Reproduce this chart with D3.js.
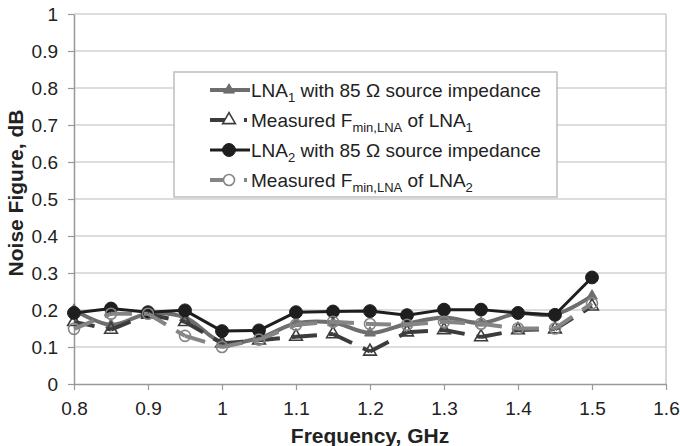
<!DOCTYPE html>
<html>
<head>
<meta charset="utf-8">
<script src="https://cdn.jsdelivr.net/npm/d3@7"></script>
<style>
  body { margin: 0; background: #fff; }
  text { font-family: "Liberation Sans", Arial, sans-serif; }
</style>
</head>
<body>
<div id="chart"></div>
<script>
// Noise figure vs frequency, two LNAs

const freqs = [0.8, 0.85, 0.9, 0.95, 1.0, 1.05, 1.1, 1.15, 1.2, 1.25, 1.3, 1.35, 1.4, 1.45, 1.5];

const lna1Sim  = [0.200, 0.160, 0.190, 0.180, 0.113, 0.124, 0.164, 0.166, 0.138, 0.163, 0.180, 0.165, 0.191, 0.188, 0.238];
const lna1Fmin = [0.168, 0.147, 0.188, 0.168, 0.110, 0.118, 0.128, 0.135, 0.088, 0.140, 0.146, 0.127, 0.146, 0.148, 0.210];
const lna2Sim  = [0.192, 0.204, 0.194, 0.199, 0.143, 0.145, 0.194, 0.196, 0.197, 0.186, 0.201, 0.201, 0.192, 0.187, 0.288];
const lna2Fmin = [0.149, 0.190, 0.190, 0.130, 0.100, 0.120, 0.160, 0.168, 0.162, 0.160, 0.168, 0.163, 0.150, 0.150, 0.218];

const xTicks = [0.8, 0.9, 1.0, 1.1, 1.2, 1.3, 1.4, 1.5, 1.6];
const yTicks = [0, 0.1, 0.2, 0.3, 0.4, 0.5, 0.6, 0.7, 0.8, 0.9, 1];

const width = 680;
const height = 446;
const margin = { top: 14, right: 14, bottom: 62, left: 74 };

const svg = d3.select("#chart")
  .append("svg")
  .attr("width", width)
  .attr("height", height);

const x = d3.scaleLinear()
  .domain([0.8, 1.6])
  .range([margin.left, width - margin.right]);

const y = d3.scaleLinear()
  .domain([0, 1])
  .range([height - margin.bottom, margin.top]);

// grid
svg.append("g")
  .selectAll("line")
  .data(yTicks.slice(1))
  .enter()
  .append("line")
  .attr("x1", x(0.8))
  .attr("x2", x(1.6))
  .attr("y1", d => y(d))
  .attr("y2", d => y(d))
  .attr("stroke", "#d2d2d2")
  .attr("stroke-width", 1.5);

svg.append("line")
  .attr("x1", x(1.6)).attr("x2", x(1.6))
  .attr("y1", y(1)).attr("y2", y(0))
  .attr("stroke", "#c8c8c8")
  .attr("stroke-width", 1.5);

// axes
const xAxis = svg.append("g")
  .attr("transform", `translate(0,${y(0)})`)
  .call(d3.axisBottom(x).tickValues(xTicks).tickSize(6).tickSizeOuter(0).tickPadding(12).tickFormat(d3.format("")));

const yAxis = svg.append("g")
  .attr("transform", `translate(${x(0.8)},0)`)
  .call(d3.axisLeft(y).tickValues(yTicks).tickSize(6).tickSizeOuter(0).tickPadding(10).tickFormat(d3.format("")));

[xAxis, yAxis].forEach(a => {
  a.select(".domain").attr("stroke", "#999").attr("stroke-width", 1.5);
  a.selectAll(".tick line").attr("stroke", "#999").attr("stroke-width", 1.2);
  a.selectAll(".tick text")
    .attr("fill", "#222")
    .style("font-size", "19px")
    .style("font-family", "'Liberation Sans', Arial, sans-serif");
});

svg.append("text")
  .attr("x", (x(0.8) + x(1.6)) / 2)
  .attr("y", 443)
  .attr("text-anchor", "middle")
  .style("font-size", "21px")
  .style("font-weight", "bold")
  .attr("fill", "#222")
  .text("Frequency, GHz");

svg.append("text")
  .attr("transform", "rotate(-90)")
  .attr("x", -(y(0) + y(1)) / 2 + 6)
  .attr("y", 23)
  .attr("text-anchor", "middle")
  .style("font-size", "21px")
  .style("font-weight", "bold")
  .attr("fill", "#222")
  .text("Noise Figure, dB");

// series
const series = [
  { values: lna1Sim,  color: "#6e6e6e", width: 4,   dashed: false, smooth: true,  marker: "triangle", filled: true },
  { values: lna1Fmin, color: "#3c3c3c", width: 4,   dashed: true,  smooth: false, marker: "triangle", filled: false },
  { values: lna2Sim,  color: "#1e1e1e", width: 3,   dashed: false, smooth: false, marker: "circle",   filled: true },
  { values: lna2Fmin, color: "#858585", width: 4,   dashed: true,  smooth: false, marker: "circle",   filled: false }
];

function markerPath(s){
  if(s.marker === "triangle") return d3.symbol(d3.symbolTriangle, s.filled ? 50 : 70)();
  return d3.symbol(d3.symbolCircle, s.filled ? 130 : 95)();
}

series.forEach(s => {
  const pts = freqs.map((f, i) => [x(f), y(s.values[i])]);

  if(s.dashed){
    // Excel restarts the dash at each point
    svg.append("g")
      .selectAll("line")
      .data(d3.pairs(pts))
      .enter()
      .append("line")
      .attr("x1", d => d[0][0]).attr("y1", d => d[0][1])
      .attr("x2", d => d[1][0]).attr("y2", d => d[1][1])
      .attr("stroke", s.color)
      .attr("stroke-width", s.width)
      .attr("stroke-dasharray", "21,12");
  } else {
    const line = d3.line().curve(s.smooth ? d3.curveCatmullRom.alpha(0.5) : d3.curveLinear);
    svg.append("path")
      .attr("d", line(pts))
      .attr("fill", "none")
      .attr("stroke", s.color)
      .attr("stroke-width", s.width)
      .attr("stroke-linejoin", "round");
  }

  svg.append("g")
    .selectAll("path")
    .data(pts)
    .enter()
    .append("path")
    .attr("d", markerPath(s))
    .attr("transform", d => `translate(${d[0]},${d[1]})`)
    .attr("fill", s.filled ? s.color : "none")
    .attr("stroke", s.color)
    .attr("stroke-width", s.filled ? 1 : 1.6);
});

// legend
const legend = svg.append("g");

legend.append("rect")
  .attr("x", 174)
  .attr("y", 72)
  .attr("width", 383)
  .attr("height", 125)
  .attr("fill", "#fff")
  .attr("stroke", "#bdbdbd")
  .attr("stroke-width", 1.5);

const legendRows = [
  { s: series[0], parts: [["LNA", 0], ["1", 1], [" with 85 Ω source impedance", 0]] },
  { s: series[1], parts: [["Measured F", 0], ["min,LNA", 1], [" of LNA", 0], ["1", 1]] },
  { s: series[2], parts: [["LNA", 0], ["2", 1], [" with 85 Ω source impedance", 0]] },
  { s: series[3], parts: [["Measured F", 0], ["min,LNA", 1], [" of LNA", 0], ["2", 1]] }
];

legendRows.forEach((r, i) => {
  const cy = 90 + i * 30;
  const g = legend.append("g");

  g.append("line")
    .attr("x1", 210).attr("x2", 250)
    .attr("y1", cy).attr("y2", cy)
    .attr("stroke", r.s.color)
    .attr("stroke-width", r.s.width)
    .attr("stroke-dasharray", r.s.dashed ? "17,17,3,40" : null);

  g.append("path")
    .attr("d", markerPath(r.s))
    .attr("transform", `translate(229,${cy})`)
    .attr("fill", r.s.filled ? r.s.color : "#fff")
    .attr("stroke", r.s.color)
    .attr("stroke-width", r.s.filled ? 1 : 1.6);

  const t = g.append("text")
    .attr("x", 251)
    .attr("y", cy + 7)
    .attr("fill", "#222")
    .style("font-size", "19px");

  let down = false;
  r.parts.forEach(p => {
    const sub = p[1] === 1;
    const ts = t.append("tspan").text(p[0]);
    if(sub && !down){ ts.attr("dy", 5).style("font-size", "13px"); down = true; }
    else if(sub){ ts.style("font-size", "13px"); }
    else if(down){ ts.attr("dy", -5); down = false; }
  });
});
</script>
</body>
</html>
